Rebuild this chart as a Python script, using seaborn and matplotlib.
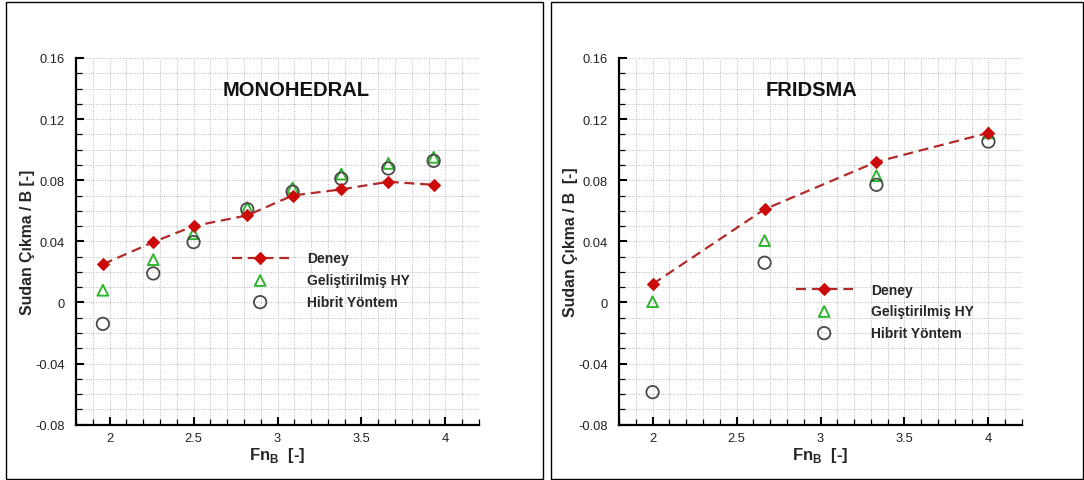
import numpy as np
import pandas as pd
import matplotlib
matplotlib.use("Agg")
import matplotlib.pyplot as plt
import seaborn as sns
from matplotlib.patches import Rectangle
from matplotlib.ticker import MultipleLocator

# ---------------- data ----------------
mono_fn = [1.96, 2.26, 2.50, 2.82, 3.09, 3.38, 3.66, 3.93]
mono_deney = [0.025, 0.0395, 0.050, 0.057, 0.070, 0.074, 0.079, 0.077]
mono_gelis = [0.008, 0.028, 0.045, 0.062, 0.075, 0.084, 0.091, 0.095]
mono_hibrit = [-0.014, 0.019, 0.0395, 0.061, 0.0725, 0.081, 0.0877, 0.0927]

frid_fn = [2.0, 2.667, 3.333, 4.0]
frid_deney = [0.012, 0.061, 0.092, 0.111]
frid_gelis = [0.0005, 0.0405, 0.083, 0.111]
frid_hibrit = [-0.0587, 0.026, 0.077, 0.1053]

titles = ["MONOHEDRAL", "FRIDSMA"]
labels = ["Deney", "Geliştirilmiş HY", "Hibrit Yöntem"]
ylabels = ["Sudan Çıkma / B [-]", "Sudan Çıkma / B  [-]"]
xlabel = r"Fn$_\mathregular{B}$  [-]"

sns.set_theme(style="white")
plt.rcParams['font.family'] = ['Liberation Sans', 'DejaVu Sans']
plt.rcParams['mathtext.fontset'] = 'custom'
plt.rcParams['mathtext.rm'] = 'Liberation Sans:bold'
plt.rcParams['mathtext.bf'] = 'Liberation Sans:bold'

W, H = 1084, 481
fig = plt.figure(figsize=(W / 100, H / 100), dpi=100)
fig.patch.set_facecolor("white")

# panel frames
for (x0, x1) in [(6, 543), (551, 1083)]:
    fig.add_artist(Rectangle((x0 / W, 1.5 / H), (x1 - x0) / W, (479 - 1.5 - 0.5) / H,
                             transform=fig.transFigure, fill=False,
                             ec="black", lw=1.0))

ax_left = [76, 619]
ax_w, ax_top, ax_bot = 403, 59, 425.7

datasets = [
    (mono_fn, mono_deney, mono_gelis, mono_hibrit, (3.11, 0.1394), (231.7, 252.5)),
    (frid_fn, frid_deney, frid_gelis, frid_hibrit, (2.946, 0.1394), (795.7, 283.5)),
]

red_line = "#b32a2a"
red_fill = "#cc0a0a"
green = "#2eb52e"
gray = "#4a4a4a"

for i, (fn, dn, gl, hb, tpos, lpos) in enumerate(datasets):
    ax = fig.add_axes([ax_left[i] / W, (H - ax_bot) / H, ax_w / W, (ax_bot - ax_top) / H])
    df = pd.DataFrame({"Fn": fn, "Deney": dn, "Gelis": gl, "Hibrit": hb})

    sns.lineplot(data=df, x="Fn", y="Deney", ax=ax, color=red_line, lw=1.6,
                 marker="D", markersize=6.2, markerfacecolor=red_fill,
                 markeredgecolor=red_fill, label=labels[0], zorder=4)
    ln = ax.lines[-1]
    ln.set_dashes((4.5, 2.6))

    sns.scatterplot(data=df, x="Fn", y="Gelis", ax=ax, marker="^", s=60,
                    color=green, linewidth=1.4, label=labels[1], zorder=3)
    coll = ax.collections[-1]
    coll.set_facecolor("none")
    coll.set_edgecolor(green)

    sns.scatterplot(data=df, x="Fn", y="Hibrit", ax=ax, marker="o", s=80,
                    color=gray, linewidth=1.3, label=labels[2], zorder=3)
    coll = ax.collections[-1]
    coll.set_facecolor("none")
    coll.set_edgecolor(gray)

    ax.set_xlim(1.8, 4.2)
    ax.set_ylim(-0.08, 0.16)
    ax.xaxis.set_major_locator(MultipleLocator(0.5))
    ax.xaxis.set_minor_locator(MultipleLocator(0.1))
    ax.yaxis.set_major_locator(MultipleLocator(0.04))
    ax.yaxis.set_minor_locator(MultipleLocator(0.01))
    ax.set_xticks([2, 2.5, 3, 3.5, 4])
    ax.set_xticklabels(["2", "2.5", "3", "3.5", "4"])
    ax.set_yticks([-0.08, -0.04, 0, 0.04, 0.08, 0.12, 0.16])
    ax.set_yticklabels(["-0.08", "-0.04", "0", "0.04", "0.08", "0.12", "0.16"])

    ax.grid(True, which="both", color="#b8b8b8", linestyle=(0, (1, 1.5)), lw=0.7)
    ax.set_axisbelow(True)
    for s in ["top", "right"]:
        ax.spines[s].set_visible(False)
    for s in ["left", "bottom"]:
        ax.spines[s].set_color("black")
        ax.spines[s].set_linewidth(1.6)
        ax.spines[s].set_zorder(5)

    ax.tick_params(which="major", direction="in", length=6, width=1.5,
                   color="black", labelsize=9.3, labelcolor="#222222",
                   bottom=True, left=True, top=False, right=False)
    ax.tick_params(axis="y", which="major", pad=8)
    ax.tick_params(axis="x", which="major", pad=5)
    ax.tick_params(which="minor", direction="in", length=4, width=0.9,
                   color="black", bottom=True, left=True, top=False, right=False)

    ax.set_xlabel(xlabel, fontsize=12, fontweight="bold", labelpad=1)
    ax.set_ylabel(ylabels[i], fontsize=11.4, fontweight="bold", labelpad=0)

    ax.text(tpos[0], tpos[1], titles[i], fontsize=14.5, fontweight="bold",
            ha="center", va="center", color="#111111")

    lx = (lpos[0] - ax_left[i]) / ax_w
    ly = (ax_bot - lpos[1]) / (ax_bot - ax_top)
    leg = ax.legend(loc="upper left", bbox_to_anchor=(lx, ly), frameon=False,
                    borderpad=0, borderaxespad=0, handlelength=4.1,
                    handletextpad=1.35, labelspacing=0.55,
                    prop={"family": "Liberation Sans", "weight": "bold", "size": 10})

fig.savefig("out.png", dpi=100, facecolor="white")
